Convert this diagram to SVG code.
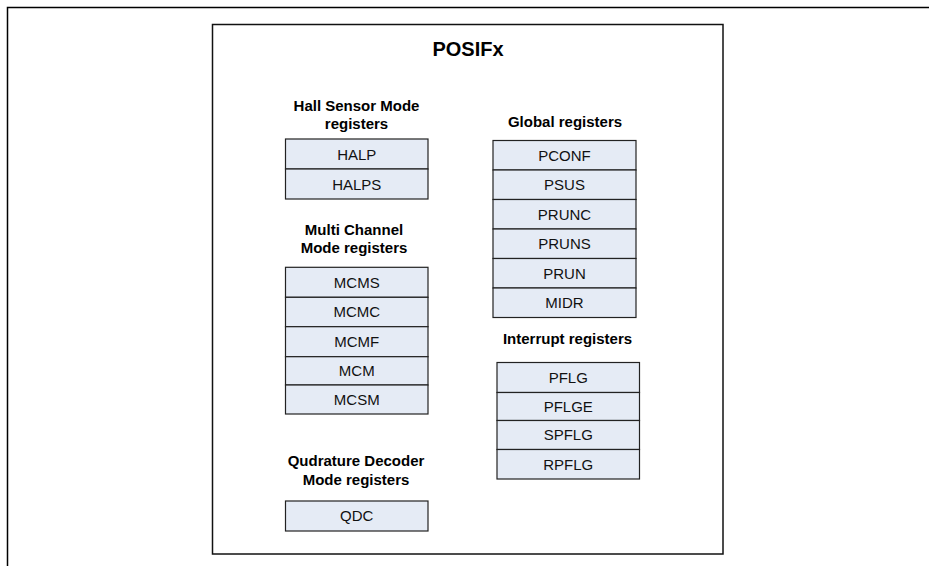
<svg xmlns="http://www.w3.org/2000/svg" width="929" height="566" viewBox="0 0 929 566">
<style>
.frame{fill:none;stroke:#000;stroke-width:1.5}
.box{fill:none;stroke:#111;stroke-width:1.5}
.reg{fill:#E5EBF5;stroke:#222;stroke-width:1.2}
.t{font-family:"Liberation Sans",Arial,sans-serif;font-size:15px;fill:#111;text-anchor:middle}
.h{font-family:"Liberation Sans",Arial,sans-serif;font-size:15px;font-weight:bold;fill:#000;text-anchor:middle}
.title{font-family:"Liberation Sans",Arial,sans-serif;font-size:20px;font-weight:bold;fill:#000;text-anchor:middle}
</style>
<rect width="929" height="566" fill="#fff"/>
<path class="frame" d="M7.5,566 V7.5 H929"/>
<g id="posifx">
<rect class="box" x="212.5" y="24.5" width="510.5" height="529.5"/>
<text class="title" x="468" y="56">POSIFx</text>
</g>
<g id="hall-heading"><text class="h" x="356.5" y="111">Hall Sensor Mode</text><text class="h" x="356.5" y="129">registers</text></g>
<g id="HALP"><rect class="reg" x="285.5" y="139" width="142.5" height="30"/><text class="t" x="356.75" y="159.5">HALP</text></g>
<g id="HALPS"><rect class="reg" x="285.5" y="169" width="142.5" height="30"/><text class="t" x="356.75" y="189.5">HALPS</text></g>
<g id="mcm-heading"><text class="h" x="354" y="235">Multi Channel</text><text class="h" x="354" y="253">Mode registers</text></g>
<g id="MCMS"><rect class="reg" x="285.5" y="267.3" width="142.5" height="30"/><text class="t" x="356.75" y="287.7">MCMS</text></g>
<g id="MCMC"><rect class="reg" x="285.5" y="297.3" width="142.5" height="29.4"/><text class="t" x="356.75" y="317.4">MCMC</text></g>
<g id="MCMF"><rect class="reg" x="285.5" y="326.7" width="142.5" height="30"/><text class="t" x="356.75" y="347.1">MCMF</text></g>
<g id="MCM"><rect class="reg" x="285.5" y="356.7" width="142.5" height="28.3"/><text class="t" x="356.75" y="376.3">MCM</text></g>
<g id="MCSM"><rect class="reg" x="285.5" y="385" width="142.5" height="29"/><text class="t" x="356.75" y="404.9">MCSM</text></g>
<g id="qd-heading"><text class="h" x="356" y="466">Qudrature Decoder</text><text class="h" x="356" y="484.5">Mode registers</text></g>
<g id="QDC"><rect class="reg" x="285.5" y="501" width="142.5" height="30"/><text class="t" x="356.75" y="521.4">QDC</text></g>
<g id="global-heading"><text class="h" x="565" y="127">Global registers</text></g>
<g id="PCONF"><rect class="reg" x="493" y="140.5" width="143" height="29.5"/><text class="t" x="564.5" y="160.6">PCONF</text></g>
<g id="PSUS"><rect class="reg" x="493" y="170" width="143" height="29.5"/><text class="t" x="564.5" y="190.1">PSUS</text></g>
<g id="PRUNC"><rect class="reg" x="493" y="199.5" width="143" height="29.5"/><text class="t" x="564.5" y="219.6">PRUNC</text></g>
<g id="PRUNS"><rect class="reg" x="493" y="229" width="143" height="29.5"/><text class="t" x="564.5" y="249.1">PRUNS</text></g>
<g id="PRUN"><rect class="reg" x="493" y="258.5" width="143" height="29.5"/><text class="t" x="564.5" y="278.6">PRUN</text></g>
<g id="MIDR"><rect class="reg" x="493" y="288" width="143" height="29.5"/><text class="t" x="564.5" y="308.1">MIDR</text></g>
<g id="int-heading"><text class="h" x="567.5" y="344">Interrupt registers</text></g>
<g id="PFLG"><rect class="reg" x="497" y="362.5" width="142.5" height="30"/><text class="t" x="568.25" y="382.9">PFLG</text></g>
<g id="PFLGE"><rect class="reg" x="497" y="392.5" width="142.5" height="28"/><text class="t" x="568.25" y="411.9">PFLGE</text></g>
<g id="SPFLG"><rect class="reg" x="497" y="420.5" width="142.5" height="29"/><text class="t" x="568.25" y="440.4">SPFLG</text></g>
<g id="RPFLG"><rect class="reg" x="497" y="449.5" width="142.5" height="29.5"/><text class="t" x="568.25" y="469.6">RPFLG</text></g>
<g id="connectors"></g>
</svg>
